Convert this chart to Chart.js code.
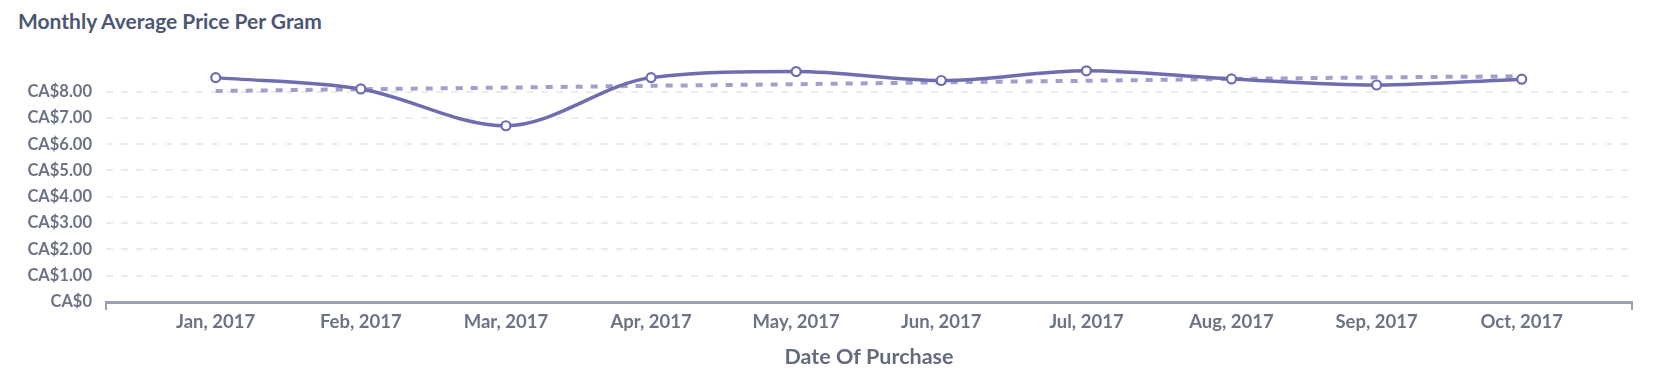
<!DOCTYPE html>
<html>
<head>
<meta charset="utf-8">
<script src="https://cdn.jsdelivr.net/npm/chart.js@4.4.1/dist/chart.umd.min.js"></script>
<style>
  html, body { margin: 0; padding: 0; background: #ffffff; }
  body { width: 1667px; height: 381px; position: relative; overflow: hidden; }
  #title { position: absolute; left: 18px; top: 7px; font-family: Lato, sans-serif; font-weight: 700;
           font-size: 21px; color: #4c5773; line-height: 28px; white-space: nowrap; }
  #wrap { position: absolute; left: 0; top: 0; width: 1667px; height: 381px; }
</style>
</head>
<body>
<div id="title">Monthly Average Price Per Gram</div>
<div id="wrap"><canvas id="c" width="1667" height="381"></canvas></div>
<script>
const categories = ['Jan, 2017', 'Feb, 2017', 'Mar, 2017', 'Apr, 2017', 'May, 2017',
                    'Jun, 2017', 'Jul, 2017', 'Aug, 2017', 'Sep, 2017', 'Oct, 2017'];
const avgPrice = [8.53, 8.10, 6.70, 8.53, 8.76, 8.42, 8.79, 8.48, 8.25, 8.47];
const trendPrice = [8.02, 8.09, 8.15, 8.22, 8.28, 8.35, 8.41, 8.48, 8.54, 8.58];
const yTicks = [0, 1, 2, 3, 4, 5, 6, 7, 8];
const yTickLabels = ['CA$0', 'CA$1.00', 'CA$2.00', 'CA$3.00', 'CA$4.00',
                     'CA$5.00', 'CA$6.00', 'CA$7.00', 'CA$8.00'];
const xTitle = 'Date Of Purchase';

const X_MIN = -0.756, X_MAX = 9.76;
const lineColor = '#6f6cb0';
const axisColor = '#9aa0b4';
const tickColor = '#6c7385';

new Chart(document.getElementById('c'), {
  type: 'line',
  data: {
    datasets: [
      {
        label: 'Average Price',
        data: avgPrice.map((v, i) => ({ x: i, y: v })),
        borderColor: lineColor,
        borderWidth: 3.5,
        cubicInterpolationMode: 'monotone',
        pointRadius: 4.5,
        pointBorderWidth: 2.2,
        pointBackgroundColor: '#ffffff',
        pointBorderColor: lineColor,
        fill: false
      },
      {
        label: 'Trend',
        data: trendPrice.map((v, i) => ({ x: i, y: v })),
        borderColor: 'rgba(130,128,188,0.75)',
        borderWidth: 4,
        borderDash: [7, 8],
        pointRadius: 0,
        tension: 0,
        fill: false
      }
    ]
  },
  options: {
    responsive: false,
    animation: false,
    layout: { padding: { left: 0, right: 35, top: 60, bottom: 11 } },
    plugins: { legend: { display: false }, tooltip: { enabled: false }, title: { display: false } },
    scales: {
      x: {
        type: 'linear',
        min: X_MIN,
        max: X_MAX,
        afterBuildTicks: (axis) => {
          axis.ticks = [{ value: X_MIN }].concat(categories.map((_, i) => ({ value: i })), [{ value: X_MAX }]);
        },
        ticks: {
          autoSkip: false,
          maxRotation: 0,
          padding: 1,
          color: tickColor,
          font: { family: 'Lato', weight: 'bold', size: 18.5 },
          callback: (v) => (Number.isInteger(v) && categories[v] !== undefined) ? categories[v] : ''
        },
        grid: {
          drawOnChartArea: false,
          drawTicks: true,
          tickLength: 8,
          lineWidth: 2,
          color: (ctx) => (ctx.tick && (ctx.tick.value === X_MIN || ctx.tick.value === X_MAX)) ? axisColor : 'rgba(0,0,0,0)'
        },
        border: { display: true, color: axisColor, width: 3 },
        title: {
          display: true,
          text: xTitle,
          color: '#646b7d',
          font: { family: 'Lato', weight: 'bold', size: 21.5 },
          padding: { top: 10, bottom: 0 }
        }
      },
      y: {
        type: 'linear',
        min: 0,
        max: 9.2,
        afterBuildTicks: (axis) => { axis.ticks = yTicks.map(v => ({ value: v })); },
        afterFit: (axis) => { axis.width = 106; },
        ticks: {
          padding: 14,
          color: tickColor,
          font: { family: 'Lato', weight: 'bold', size: 16.5 },
          callback: (v) => { const i = yTicks.indexOf(v); return i >= 0 ? yTickLabels[i] : ''; }
        },
        grid: { drawTicks: false, color: '#ececec', lineWidth: 2 },
        border: { display: false, dash: [7, 8] }
      }
    }
  }
});
</script>
</body>
</html>
